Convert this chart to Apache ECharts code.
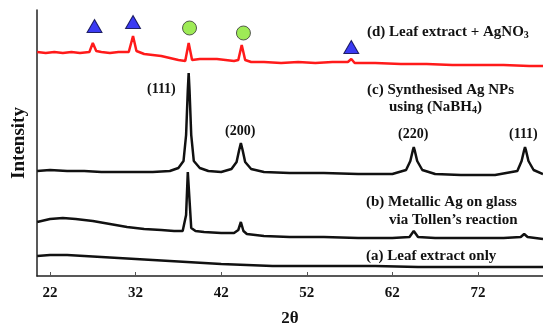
<!DOCTYPE html>
<html>
<head>
<meta charset="utf-8">
<script src="https://cdn.jsdelivr.net/npm/echarts@6/dist/echarts.min.js"></script>
<style>
  html, body { margin: 0; padding: 0; background: #fff; }
  #chart { width: 543px; height: 323px; }
</style>
</head>
<body>
<div id="chart"></div>
<script>
// XRD patterns, intensity in arbitrary units (stacked offsets as drawn)
const xTicks = [22, 32, 42, 52, 62, 72];

const curveD = [ // (d) leaf extract + AgNO3, red
  [20.5, 224], [21.5, 223], [22.5, 224], [23.5, 223], [24.5, 224], [25.5, 223],
  [26.6, 224], [27.0, 233], [27.4, 225], [28.0, 224], [29.0, 223], [30.0, 224],
  [31.2, 224], [31.7, 240], [32.1, 225], [33.0, 222], [34.0, 221], [35.0, 220],
  [36.0, 218], [37.0, 216], [37.8, 215], [38.2, 233], [38.6, 216], [39.5, 217],
  [40.5, 217], [41.5, 217], [42.5, 216], [43.5, 215], [44.0, 216], [44.4, 231],
  [44.8, 216], [45.5, 214], [47, 214], [49, 213], [51, 214], [53, 213], [55, 214],
  [56.8, 214], [57.2, 217], [57.6, 213], [60, 213], [63, 212], [66, 212],
  [69, 211], [72, 211], [75, 211], [78, 210], [79.6, 210]
];

const curveC = [ // (c) synthesised Ag NPs (NaBH4)
  [20.5, 105], [22, 106], [24, 105], [26, 105], [28, 104], [30, 104], [32, 104],
  [34, 104], [36, 105], [37, 108], [37.6, 115], [37.9, 141], [38.1, 186],
  [38.2, 203], [38.3, 186], [38.5, 141], [38.8, 115], [39.5, 108], [40.5, 105],
  [42, 104], [43.2, 107], [43.8, 114], [44.1, 126], [44.3, 133], [44.5, 126],
  [44.8, 114], [45.5, 107], [47, 104], [50, 103], [54, 103], [58, 102], [62, 102],
  [63.6, 106], [64.1, 115], [64.4, 126], [64.5, 129], [64.6, 126], [64.9, 115],
  [65.5, 106], [67, 102], [70, 101], [74, 101], [76.6, 105], [77.1, 115],
  [77.4, 126], [77.5, 129], [77.6, 126], [77.9, 115], [78.5, 106], [79.6, 102]
];

const curveB = [ // (b) metallic Ag on glass via Tollen's reaction
  [20.5, 54], [22, 57], [23.5, 58], [25, 57], [27, 55], [29, 52], [31, 49],
  [33, 47], [35, 46], [36.5, 45], [37.5, 45], [37.9, 61], [38.1, 104],
  [38.2, 105], [38.3, 76], [38.5, 48], [39, 45], [40, 44], [42, 43], [43.5, 43],
  [44.0, 46], [44.3, 54], [44.6, 45], [45, 42], [47, 40], [50, 39], [54, 39],
  [58, 38], [62, 38], [64, 39], [64.5, 45], [65, 39], [67, 38], [71, 38],
  [75, 38], [77, 39], [77.4, 42], [77.8, 39], [79.6, 37]
];

const curveA = [ // (a) leaf extract only
  [20.5, 20], [22, 21], [24, 21], [26, 20], [28, 19], [30, 18], [32, 17],
  [34, 16], [36, 15], [38, 14], [40, 13], [42, 12], [45, 11], [48, 10],
  [52, 10], [56, 10], [60, 10], [65, 9], [70, 9], [75, 9], [79.6, 9]
];

const triangleMarks = [[27.2, 250], [31.7, 254], [57.2, 229]];
const circleMarks = [[38.3, 248], [44.6, 243]];

const serif = '"Liberation Serif", "DejaVu Serif", serif';

function txt(x, y, text, size) {
  size = size || 15;
  return {
    type: 'text', x, y,
    style: {
      text, fill: '#111', align: 'left', verticalAlign: 'middle',
      font: `bold ${size}px ${serif}`,
      rich: {
        s: { fontSize: 10, fontWeight: 'bold', fontFamily: serif, padding: [6, 0, 0, 0], fill: '#111' },
        n: { fontSize: size, fontWeight: 'bold', fontFamily: serif, fill: '#111' }
      }
    }
  };
}

const chart = echarts.init(document.getElementById('chart'));

const lineSeries = (data, color, width) => ({
  type: 'line', data, showSymbol: false, silent: true, smooth: false,
  lineStyle: { color, width }, z: 2
});

chart.setOption({
  animation: false,
  grid: { left: 37, right: 0, top: 10, bottom: 47, outerBoundsMode: 'none' },
  xAxis: {
    type: 'value', min: 20.48, max: 79.6,
    axisLine: { lineStyle: { color: '#222', width: 1.5 } },
    axisTick: { show: true, inside: true, length: 4, customValues: xTicks, lineStyle: { color: '#555' } },
    axisLabel: {
      customValues: xTicks, color: '#111', fontFamily: serif, fontWeight: 'bold',
      fontSize: 15, margin: 10
    },
    splitLine: { show: false },
    name: '2θ', nameLocation: 'middle', nameGap: 34,
    nameTextStyle: { color: '#111', fontFamily: serif, fontWeight: 'bold', fontSize: 17 }
  },
  yAxis: {
    type: 'value', min: 0, max: 266,
    axisLine: { show: true, lineStyle: { color: '#222', width: 1.5 } },
    axisTick: { show: false }, axisLabel: { show: false }, splitLine: { show: false },
    name: 'Intensity', nameLocation: 'middle', nameGap: 8, nameRotate: 90,
    nameTextStyle: { color: '#111', fontFamily: serif, fontWeight: 'bold', fontSize: 19 }
  },
  series: [
    lineSeries(curveA, '#111', 2.5),
    lineSeries(curveB, '#111', 2.5),
    lineSeries(curveC, '#111', 2.5),
    lineSeries(curveD, '#ff1a1a', 2.5),
    {
      type: 'scatter', data: triangleMarks, symbol: 'triangle', symbolSize: [15, 13],
      itemStyle: { color: '#0a0af0', borderColor: '#000040', borderWidth: 1 }, z: 3
    },
    {
      type: 'scatter', data: circleMarks, symbol: 'circle', symbolSize: 14,
      itemStyle: { color: '#86e62c', borderColor: '#333', borderWidth: 1 }, z: 3
    }
  ],
  graphic: [
    txt(367, 32, '{n|(d) Leaf extract + AgNO}{s|3}'),
    txt(367, 90, '(c) Synthesised Ag NPs'),
    txt(389, 107, '{n|using (NaBH}{s|4}{n|)}'),
    txt(147, 89, '(111)', 14),
    txt(225, 131, '(200)', 14),
    txt(398, 134, '(220)', 14),
    txt(509, 134, '(111)', 14),
    txt(366, 202, '(b) Metallic Ag on glass'),
    txt(389, 220, 'via Tollen’s reaction'),
    txt(366, 256, '(a) Leaf extract only')
  ]
});
</script>
</body>
</html>
